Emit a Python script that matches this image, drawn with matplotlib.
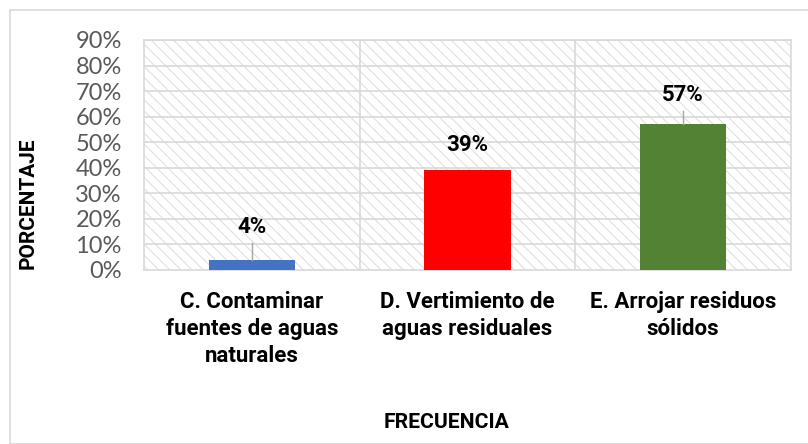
import numpy as np
import matplotlib
matplotlib.use("Agg")
from matplotlib import pyplot as plt
from matplotlib.patches import Rectangle

categorias = ["C. Contaminar\nfuentes de aguas\nnaturales",
              "D. Vertimiento de\naguas residuales",
              "E. Arrojar residuos\nsólidos"]
porcentajes = [0.04, 0.39, 0.57]
colores = ["#4472C4", "#FF0000", "#548235"]
yticks = np.arange(0, 0.91, 0.1)

# where the data labels sit (above the bar top) and if they get a leader line
label_offset = [0.128, 0.099, 0.115]
leader = [True, False, True]

plt.rcParams["font.family"] = ["Lato", "DejaVu Sans"]
plt.rcParams["hatch.color"] = "#dcdcdc"
plt.rcParams["hatch.linewidth"] = 0.7
bold = dict(family=["Roboto", "DejaVu Sans"], fontweight="bold", color="black")

fig = plt.figure(figsize=(8.08, 4.44), dpi=100)
fig.patches.append(Rectangle((10/808, 0), 1, 1 - 10/444, transform=fig.transFigure,
                             fill=False, edgecolor="#d9d9d9", lw=1.2))
ax = fig.add_axes([144/808, 1 - 270/444, (791-144)/808, 230/444])

# hatched plot area
ax.add_patch(Rectangle((0, 0), 1, 1, transform=ax.transAxes, facecolor="white",
                       edgecolor="#dcdcdc", lw=0, hatch="\\\\\\", zorder=0))

x = np.arange(len(categorias))
ax.bar(x, porcentajes, width=0.4, color=colores, zorder=3)

for i, v in enumerate(porcentajes):
    ly = v + label_offset[i]
    ax.text(i, ly, f"{v*100:.0f}%", ha="center", va="center", fontsize=16,
            zorder=4, **bold)
    if leader[i]:
        ax.plot([i, i], [v, ly - 0.062], color="#a6a6a6", lw=1, zorder=4)

ax.set_xlim(-0.5, 2.5)
ax.set_ylim(0, 0.9)
ax.set_yticks(yticks)
ax.set_yticklabels([f"{t*100:.0f}%" for t in yticks], fontsize=17, color="#595959")
ax.set_xticks(x)
ax.set_xticklabels(categorias, fontsize=16, linespacing=1.3, va="top", **bold)
ax.tick_params(axis="both", length=0)
ax.tick_params(axis="y", pad=16)
ax.tick_params(axis="x", pad=15)

for t in yticks[1:]:
    ax.axhline(t, color="#d9d9d9", lw=1.2, zorder=1)
for b in [0.5, 1.5]:
    ax.axvline(b, color="#d9d9d9", lw=1.2, zorder=1)
for s in ax.spines.values():
    s.set_color("#d9d9d9")
    s.set_linewidth(1.2)

ax.set_ylabel("PORCENTAJE", fontsize=15, **bold)
ax.yaxis.set_label_coords((38 - 144) / 647, (270 - 203) / 230)
fig.text(447/808, 1 - 422/444, "FRECUENCIA", ha="center", va="center",
         fontsize=15.2, **bold)

fig.savefig("out.png", dpi=100)
